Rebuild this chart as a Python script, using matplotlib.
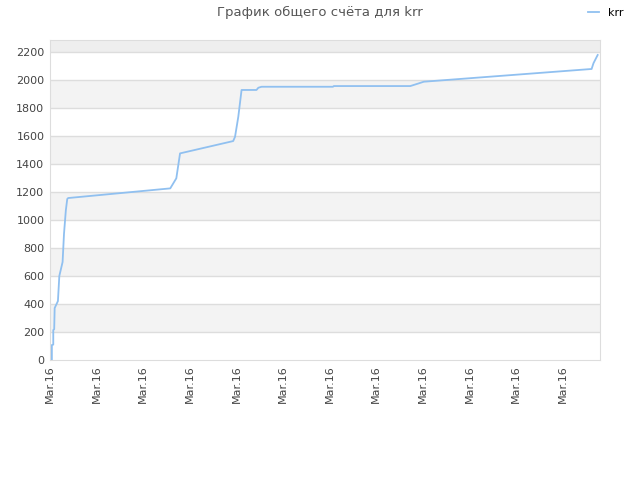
import matplotlib
matplotlib.use("Agg")
import matplotlib.pyplot as plt

# data (x in tick units)
x_vals = [0.04, 0.04, 0.07, 0.07, 0.09, 0.10, 0.17, 0.20, 0.27, 0.30, 0.34, 0.37, 0.39,
          2.58, 2.71, 2.79, 3.93, 3.97, 4.04, 4.11, 4.43, 4.47, 4.54, 6.07, 6.09,
          7.73, 7.90, 8.02, 11.62, 11.66, 11.75]
y_vals = [0, 107, 110, 214, 220, 371, 421, 600, 700, 900, 1070, 1150, 1157,
          1226, 1298, 1476, 1564, 1595, 1738, 1929, 1929, 1945, 1952, 1952, 1957,
          1957, 1975, 1988, 2079, 2120, 2179]
tick_pos = list(range(12))
tick_labels = ["Mar.16"] * 12
y_ticks = list(range(0, 2201, 200))
series_name = "krr"
title = "График общего счёта для krr"

fig = plt.figure(figsize=(6.4, 4.8), dpi=100)
ax = fig.add_axes([50/640, 120/480, 550/640, 320/480])
ymax = 2286
ax.set_xlim(0, 11.8)
ax.set_ylim(0, ymax)

# alternating bands
for i, y0 in enumerate(y_ticks):
    y1 = y0 + 200
    if i % 2 == 1:
        ax.axhspan(y0, min(y1, ymax), color="#f3f3f3", lw=0, zorder=0)
ax.axhspan(2200, ymax, color="#eeeeee", lw=0, zorder=0)
for y in y_ticks[1:]:
    ax.axhline(y, color="#dddddd", lw=1, zorder=1)

ax.plot(x_vals, y_vals, color="#90c0f0", lw=1.3, zorder=3, label=series_name)

ax.set_yticks(y_ticks)
ax.set_yticklabels([str(v) for v in y_ticks], fontsize=8, color="#444444")
ax.set_xticks(tick_pos)
ax.set_xticklabels(tick_labels, rotation=90, fontsize=8, color="#444444")
ax.tick_params(length=0, pad=4)

for s in ["top", "right", "left", "bottom"]:
    ax.spines[s].set_color("#dddddd")

fig.text(0.5, 0.975, title, ha="center", va="center", fontsize=9.5, color="#555555")
leg = fig.legend(loc="upper right", bbox_to_anchor=(0.99, 1.005), frameon=False,
                 fontsize=8, handlelength=1.0, handletextpad=0.8)
fig.savefig("out.png", dpi=100)
